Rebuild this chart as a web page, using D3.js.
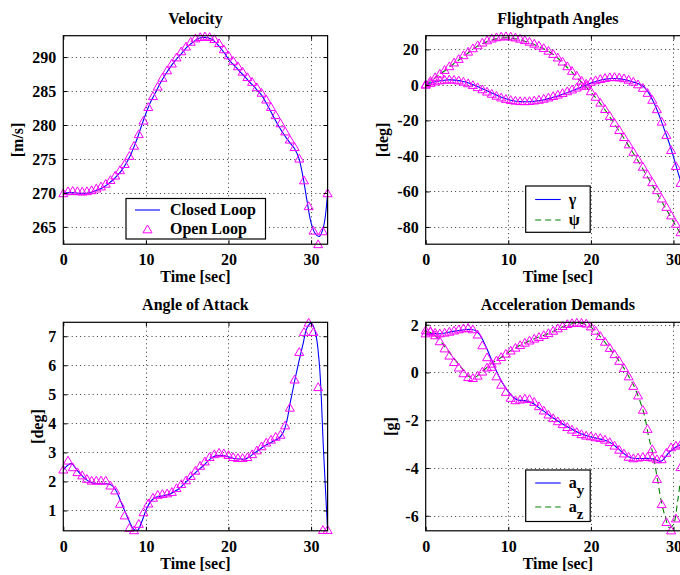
<!DOCTYPE html>
<html>
<head>
<meta charset="utf-8">
<script src="https://cdn.jsdelivr.net/npm/d3@7"></script>
<style>
  html, body { margin: 0; padding: 0; background: #fff; }
  svg { display: block; }
  text { font-family: "Liberation Serif", "Times New Roman", serif; font-weight: bold; fill: #000; }
</style>
</head>
<body>
<svg id="chart" width="680" height="575"></svg>
<script>
// ---------------- DATA ----------------
// Closed-loop sample times (s)
const timeCL = [0,0.5,1,1.5,2,2.5,3,3.5,4,4.5,5,5.5,6,6.5,7,7.5,8,8.5,9,9.5,
  10,10.5,11,11.5,12,12.5,13,13.5,14,14.5,15,15.5,16,16.5,17,17.5,18,18.5,19,19.5,
  20,20.5,21,21.5,22,22.5,23,23.5,24,24.5,25,25.5,26,26.5,27,27.5,28,28.5,29,29.5,
  30,30.5,31,31.5,32];
// Open-loop sample times (s) (marker positions)
const timeOL = [0,0.57,1.14,1.71,2.29,2.86,3.43,4,4.57,5.14,
  5.71,6.29,6.86,7.43,8,8.57,9.14,9.71,10.29,10.86,
  11.43,12,12.57,13.14,13.71,14.29,14.86,15.43,16,16.57,
  17.14,17.71,18.29,18.86,19.43,20,20.57,21.14,21.71,22.29,
  22.86,23.43,24,24.57,25.14,25.71,26.29,26.86,27.43,28,
  28.57,29.14,29.71,30.29,30.86,31.43,32];

// Velocity [m/s]
const velocityCL = [270.0,270.03,270.05,270.0,269.95,269.95,270.0,270.15,270.35,270.6,
  270.95,271.4,271.9,272.5,273.2,274.1,275.2,276.6,278.2,280.0,
  281.7,283.2,284.4,285.6,286.7,287.7,288.6,289.4,290.1,290.8,
  291.5,292.0,292.5,292.8,292.9,292.85,292.6,292.1,291.4,290.6,
  289.7,289.0,288.4,287.7,287.1,286.4,285.8,285.1,284.4,283.4,
  282.3,281.1,280.0,279.0,278.1,277.3,276.5,275.2,272.5,268.9,
  265.6,264.0,263.6,265.0,270.0];
const velocityOL = [270.0,270.3,270.35,270.3,270.25,270.3,270.45,270.7,271.0,271.4,
  271.95,272.6,273.4,274.3,275.5,277.0,278.7,280.7,282.7,284.3,
  285.7,287.0,288.1,289.1,290.0,290.9,291.6,292.3,292.8,293.0,
  293.1,293.0,292.7,292.1,291.2,290.3,289.5,288.7,287.9,287.1,
  286.4,285.6,284.8,283.8,282.7,281.5,280.3,279.1,277.9,276.8,
  275.1,271.9,268.1,264.5,262.5,264.4,270.0];

// Flightpath angles [deg]
const gammaCL = [0.0,0.9,1.6,2.1,2.5,2.75,2.8,2.7,2.4,1.9,
  1.3,0.5,-0.4,-1.4,-2.4,-3.5,-4.6,-5.6,-6.6,-7.5,
  -8.2,-8.8,-9.2,-9.4,-9.5,-9.45,-9.3,-9.0,-8.7,-8.2,
  -7.6,-6.9,-6.2,-5.4,-4.6,-3.7,-2.8,-1.9,-0.9,0.1,
  1.0,1.8,2.5,3.0,3.4,3.6,3.6,3.4,3.0,2.5,
  1.8,1.1,0.2,-1.5,-4.5,-8.8,-14.0,-20.0,-26.5,-33.0,
  -40.5,-48.5,-56.0,-63.0,-70.0];
const gammaOL = [0.3,1.3,2.1,2.7,3.1,3.25,3.1,2.7,2.0,1.1,
  0.1,-1.1,-2.3,-3.6,-4.8,-5.9,-6.9,-7.7,-8.3,-8.7,
  -8.95,-9.0,-8.9,-8.6,-8.2,-7.6,-6.9,-6.1,-5.3,-4.4,
  -3.4,-2.4,-1.3,-0.2,0.9,1.9,2.8,3.5,4.1,4.5,
  4.6,4.4,3.9,3.1,2.0,0.5,-1.5,-4.3,-8.2,-13.5,
  -20.5,-28.0,-36.5,-45.5,-55.0,-63.5,-71.0];
const psiCL = [0.0,1.7,3.5,5.2,7.0,8.7,10.5,12.2,14.0,15.8,
  17.5,19.3,21.0,22.4,23.5,24.5,25.3,25.9,26.3,26.5,
  26.5,26.2,25.8,25.3,24.6,23.9,23.0,22.0,21.0,19.8,
  18.5,17.0,15.0,12.8,10.5,8.1,5.7,3.3,0.9,-1.6,
  -4.1,-6.8,-9.6,-12.7,-16.0,-19.5,-23.0,-26.5,-30.0,-33.7,
  -37.5,-41.2,-45.0,-49.0,-53.0,-57.0,-61.0,-65.0,-69.0,-73.0,
  -77.0,-81.0,-84.5,-87.5,-89.5];
const psiOL = [0.5,2.5,4.5,6.5,8.6,10.7,12.8,14.8,16.9,18.9,
  20.8,22.5,24.0,25.3,26.3,27.0,27.4,27.6,27.4,26.9,
  26.2,25.4,24.5,23.4,22.3,20.9,19.4,17.6,15.6,13.3,
  10.7,8.1,5.4,2.6,-0.3,-3.4,-6.5,-9.8,-13.4,-17.3,
  -21.2,-25.2,-29.2,-33.3,-37.5,-41.7,-45.9,-50.2,-54.6,-59.1,
  -63.8,-68.5,-73.3,-78.0,-82.8,-86.5,-89.5];

// Angle of attack [deg]
const alphaCL = [2.40,2.55,2.62,2.45,2.28,2.13,2.02,1.95,1.93,1.92,
  1.92,1.91,1.84,1.62,1.28,0.95,0.62,0.36,0.32,0.61,
  1.00,1.28,1.42,1.48,1.50,1.53,1.58,1.66,1.75,1.88,
  2.02,2.17,2.30,2.43,2.55,2.70,2.82,2.88,2.90,2.88,
  2.85,2.80,2.78,2.77,2.77,2.84,2.95,3.05,3.15,3.25,
  3.32,3.40,3.47,3.62,4.00,4.75,5.45,6.10,6.70,7.28,
  7.45,7.16,6.05,3.10,0.30];
const alphaOL = [2.42,2.73,2.50,2.33,2.22,2.10,2.04,2.04,2.04,2.04,
  1.87,1.70,1.24,0.84,0.41,0.33,0.55,0.95,1.25,1.45,
  1.55,1.58,1.60,1.65,1.78,1.92,2.05,2.20,2.38,2.55,
  2.70,2.85,2.95,3.00,2.98,2.92,2.85,2.82,2.82,2.85,
  2.95,3.08,3.22,3.35,3.45,3.55,3.62,3.94,4.55,5.52,
  6.47,7.16,7.48,7.16,5.26,0.34,0.34];

// Acceleration demands [g]
const ayCL = [1.62,1.63,1.63,1.62,1.63,1.66,1.70,1.73,1.76,1.78,
  1.80,1.80,1.76,1.60,1.30,0.92,0.50,0.10,-0.25,-0.55,
  -0.80,-1.00,-1.13,-1.17,-1.18,-1.22,-1.30,-1.42,-1.55,-1.67,
  -1.80,-1.92,-2.03,-2.14,-2.24,-2.34,-2.43,-2.52,-2.59,-2.65,
  -2.70,-2.74,-2.78,-2.82,-2.88,-2.97,-3.10,-3.25,-3.40,-3.52,
  -3.58,-3.60,-3.60,-3.60,-3.60,-3.62,-3.67,-3.72,-3.55,-3.33,
  -3.20,-3.08,-3.00,-2.95,-2.90];
const ayOL = [1.65,1.75,1.68,1.65,1.68,1.72,1.77,1.82,1.86,1.88,
  1.82,1.60,1.15,0.65,0.25,-0.15,-0.50,-0.80,-1.05,-1.15,
  -1.12,-1.08,-1.10,-1.22,-1.40,-1.58,-1.75,-1.90,-2.03,-2.15,
  -2.27,-2.38,-2.48,-2.57,-2.63,-2.66,-2.70,-2.73,-2.80,-2.90,
  -3.05,-3.22,-3.38,-3.52,-3.58,-3.55,-3.52,-3.52,-3.55,-3.62,
  -3.62,-3.35,-3.12,-3.05,-3.00,-2.95,-2.90];
const azCL = [1.72,1.68,1.58,1.42,1.22,1.00,0.78,0.55,0.35,0.12,
  -0.10,-0.22,-0.20,-0.08,0.08,0.24,0.38,0.50,0.60,0.72,
  0.84,0.95,1.05,1.15,1.24,1.32,1.39,1.46,1.52,1.58,
  1.65,1.73,1.82,1.90,1.97,2.02,2.05,2.06,2.05,2.00,
  1.90,1.74,1.55,1.35,1.13,0.90,0.68,0.44,0.18,-0.12,
  -0.42,-0.80,-1.25,-1.82,-2.70,-3.40,-4.35,-5.35,-6.05,-6.50,
  -6.35,-5.40,-4.20,-3.50,-3.10];
const azOL = [1.78,1.72,1.57,1.32,1.02,0.72,0.45,0.22,-0.02,-0.18,
  -0.22,-0.12,0.05,0.22,0.38,0.52,0.66,0.80,0.93,1.05,
  1.16,1.26,1.35,1.43,1.50,1.58,1.66,1.76,1.86,1.96,
  2.04,2.08,2.10,2.09,2.06,1.94,1.76,1.54,1.30,1.04,
  0.78,0.50,0.20,-0.15,-0.55,-0.95,-1.55,-2.35,-3.20,-4.45,
  -5.50,-6.25,-6.60,-6.10,-3.95,-3.30,-3.00];

// Axis ticks / limits / labels
const xTicks = [0, 10, 20, 30];
const xLimits = [0, 32];
const velocityTicks = [265, 270, 275, 280, 285, 290];
const velocityLimits = [262.45, 293.15];
const angleTicks = [-80, -60, -40, -20, 0, 20];
const angleLimits = [-89.7, 27.7];
const alphaTicks = [1, 2, 3, 4, 5, 6, 7];
const alphaLimits = [0.3, 7.48];
const accelTicks = [-6, -4, -2, 0, 2];
const accelLimits = [-6.63, 2.1];
const xLabel = "Time [sec]";

// ---------------- DRAWING ----------------
const svg = d3.select("#chart");
const BLUE = "#0000ff", GREEN = "#008000", MAGENTA = "#ff00ff";
const triPath = "M0,-4 L4.5,3.8 L-4.5,3.8 Z";
let clipId = 0;

function panel(cfg) {
  const { x0, y0, w, h } = cfg;
  const x = d3.scaleLinear().domain(xLimits).range([x0, x0 + w]);
  const y = d3.scaleLinear().domain(cfg.yLimits).range([y0 + h, y0]);
  const g = svg.append("g");

  g.append("rect").attr("x", x0).attr("y", y0).attr("width", w).attr("height", h).attr("fill", "#fff");

  // grid
  const grid = g.append("g").attr("stroke", "#222").attr("stroke-width", 0.9).attr("stroke-dasharray", "1,3.2");
  grid.selectAll(null).data(xTicks.filter(t => t > xLimits[0] && t < xLimits[1])).join("line")
    .attr("x1", d => Math.round(x(d)) + 0.5).attr("x2", d => Math.round(x(d)) + 0.5)
    .attr("y1", y0).attr("y2", y0 + h);
  grid.selectAll(null).data(cfg.yTicks).join("line")
    .attr("y1", d => Math.round(y(d)) + 0.5).attr("y2", d => Math.round(y(d)) + 0.5)
    .attr("x1", x0).attr("x2", x0 + w);

  // clip for lines
  const id = "clip" + (clipId++);
  svg.append("defs").append("clipPath").attr("id", id)
    .append("rect").attr("x", x0).attr("y", y0 - 1).attr("width", w).attr("height", h + 2);

  const line = d3.line().x(d => x(d[0])).y(d => y(d[1])).curve(d3.curveCatmullRom.alpha(0.5));
  cfg.lines.forEach(s => {
    g.append("path").datum(d3.zip(timeCL, s.values))
      .attr("clip-path", `url(#${id})`)
      .attr("d", line).attr("fill", "none")
      .attr("stroke", s.color).attr("stroke-width", 1.1)
      .attr("stroke-dasharray", s.dash || null);
  });
  cfg.markers.forEach(vals => {
    g.append("g").selectAll("path").data(d3.zip(timeOL, vals)).join("path")
      .attr("transform", d => `translate(${x(d[0])},${y(d[1])})`)
      .attr("d", triPath).attr("fill", "none").attr("stroke", MAGENTA).attr("stroke-width", 1);
  });

  // axes (ticks inward on all sides)
  const fmt = d => String(d);
  const ax = [
    g.append("g").attr("transform", `translate(0,${y0 + h})`).call(d3.axisBottom(x).tickValues(xTicks).tickSizeInner(-4).tickSizeOuter(0).tickPadding(7).tickFormat(fmt)),
    g.append("g").attr("transform", `translate(${x0},0)`).call(d3.axisLeft(y).tickValues(cfg.yTicks).tickSizeInner(-4).tickSizeOuter(0).tickPadding(7).tickFormat(fmt)),
    g.append("g").attr("transform", `translate(0,${y0})`).call(d3.axisTop(x).tickValues(xTicks).tickSizeInner(-4).tickSizeOuter(0).tickFormat("")),
    g.append("g").attr("transform", `translate(${x0 + w},0)`).call(d3.axisRight(y).tickValues(cfg.yTicks).tickSizeInner(-4).tickSizeOuter(0).tickFormat(""))
  ];
  ax.forEach(a => {
    a.attr("font-family", null).attr("font-size", null);
    a.select(".domain").remove();
    a.selectAll("line").attr("stroke", "#000");
    a.selectAll("text").attr("font-size", 16).attr("fill", "#000");
  });
  ax[0].selectAll("text").attr("dy", null).attr("y", 21);
  ax[1].selectAll("text").attr("dy", "0.34em");

  g.append("rect").attr("x", x0).attr("y", y0).attr("width", w).attr("height", h)
    .attr("fill", "none").attr("stroke", "#000").attr("stroke-width", 1.2);

  // labels
  g.append("text").attr("x", x0 + w / 2).attr("y", y0 - 12).attr("text-anchor", "middle")
    .attr("font-size", 16).text(cfg.title);
  g.append("text").attr("x", x0 + w / 2).attr("y", y0 + h + 38).attr("text-anchor", "middle")
    .attr("font-size", 16).text(xLabel);
  g.append("text").attr("transform", `translate(${cfg.ylabelX},${y0 + h / 2}) rotate(-90)`)
    .attr("text-anchor", "middle").attr("dy", "0.35em").attr("font-size", 16).text(cfg.ylabel);

  if (cfg.legend) {
    const L = cfg.legend;
    const lg = g.append("g");
    lg.append("rect").attr("x", L.x).attr("y", L.y).attr("width", L.w).attr("height", L.h)
      .attr("fill", "#fff").attr("stroke", "#000").attr("stroke-width", 1.2);
    L.items.forEach((it, i) => {
      const cy = L.y + L.rowY[i];
      if (it.kind === "line") {
        lg.append("line").attr("x1", L.x + L.sx1).attr("x2", L.x + L.sx2).attr("y1", cy).attr("y2", cy)
          .attr("stroke", it.color).attr("stroke-width", 1.1).attr("stroke-dasharray", it.dash || null);
      } else {
        lg.append("path").attr("transform", `translate(${L.x + (L.sx1 + L.sx2) / 2},${cy})`)
          .attr("d", triPath).attr("fill", "none").attr("stroke", MAGENTA).attr("stroke-width", 1);
      }
      const t = lg.append("text").attr("x", L.x + L.tx).attr("y", cy).attr("dy", "0.33em").attr("font-size", 16);
      if (it.sub) {
        t.append("tspan").text(it.label);
        t.append("tspan").attr("dy", "0.45em").attr("font-size", 15).text(it.sub);
      } else {
        t.text(it.label);
      }
    });
  }
}

const LX = 63.3, RX = 425.7, PW = 264.3;
const TY = 35.7, BY = 322.3, PH = 208.5;

panel({
  x0: LX, y0: TY, w: PW, h: PH, yLimits: velocityLimits, yTicks: velocityTicks,
  title: "Velocity", ylabel: "[m/s]", ylabelX: 17,
  lines: [{ values: velocityCL, color: BLUE }],
  markers: [velocityOL],
  legend: { x: 126, y: 198.5, w: 139.5, h: 40.5, sx1: 9, sx2: 34, tx: 44, rowY: [11.5, 30.5],
    items: [{ kind: "line", color: BLUE, label: "Closed Loop" }, { kind: "marker", label: "Open Loop" }] }
});

panel({
  x0: RX, y0: TY, w: PW, h: PH, yLimits: angleLimits, yTicks: angleTicks,
  title: "Flightpath Angles", ylabel: "[deg]", ylabelX: 382,
  lines: [{ values: gammaCL, color: BLUE }, { values: psiCL, color: GREEN, dash: "6,4" }],
  markers: [gammaOL, psiOL],
  legend: { x: 525.7, y: 186, w: 64.5, h: 46.3, sx1: 9.5, sx2: 35, tx: 43, rowY: [13.5, 34],
    items: [{ kind: "line", color: BLUE, label: "γ" }, { kind: "line", color: GREEN, dash: "6,4", label: "ψ" }] }
});

panel({
  x0: LX, y0: BY, w: PW, h: PH, yLimits: alphaLimits, yTicks: alphaTicks,
  title: "Angle of Attack", ylabel: "[deg]", ylabelX: 37,
  lines: [{ values: alphaCL, color: BLUE }],
  markers: [alphaOL]
});

panel({
  x0: RX, y0: BY, w: PW, h: PH, yLimits: accelLimits, yTicks: accelTicks,
  title: "Acceleration Demands", ylabel: "[g]", ylabelX: 390,
  lines: [{ values: ayCL, color: BLUE }, { values: azCL, color: GREEN, dash: "6,4" }],
  markers: [ayOL, azOL],
  legend: { x: 525.7, y: 470, w: 64.5, h: 51.5, sx1: 9.5, sx2: 35, tx: 43, rowY: [13, 37],
    items: [{ kind: "line", color: BLUE, label: "a", sub: "y" }, { kind: "line", color: GREEN, dash: "6,4", label: "a", sub: "z" }] }
});
</script>
</body>
</html>
